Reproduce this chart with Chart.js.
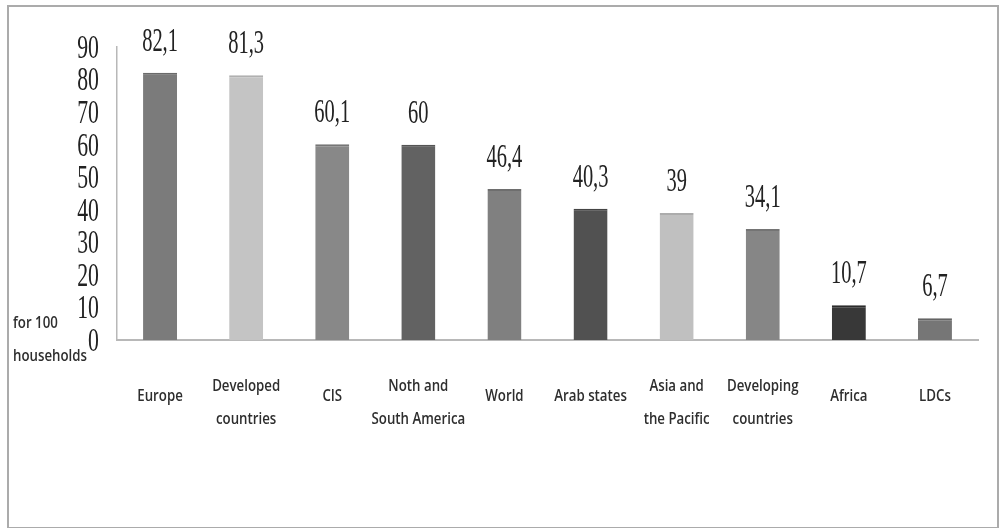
<!DOCTYPE html>
<html>
<head>
<meta charset="utf-8">
<script src="https://cdn.jsdelivr.net/npm/chart.js@4/dist/chart.umd.min.js"></script>
<style>
  html, body { margin: 0; padding: 0; background: #fff; }
  .frame {
    position: absolute; left: 7px; top: 5px; width: 988px; height: 520px;
    border: 2px solid #ababab; box-sizing: content-box;
  }
  .wrap { position: absolute; left: 0; top: 0; width: 999px; height: 528px; }
</style>
</head>
<body>
<div class="frame"></div>
<div class="wrap"><canvas id="chart-households"></canvas></div>
<script>
// households per 100, by region
const categories = [
  ["Europe"],
  ["Developed", "countries"],
  ["CIS"],
  ["Noth and", "South America"],
  ["World"],
  ["Arab states"],
  ["Asia and", "the Pacific"],
  ["Developing", "countries"],
  ["Africa"],
  ["LDCs"],
];
const values = [82.1, 81.3, 60.1, 60, 46.4, 40.3, 39, 34.1, 10.7, 6.7];
const yTickValues = [0, 10, 20, 30, 40, 50, 60, 70, 80, 90];
const unitLabel = ["for 100", "households"];

const barColors = [
  "#7b7b7b", "#c4c4c4", "#888888", "#626262", "#808080",
  "#515151", "#c0c0c0", "#868686", "#383838", "#767676",
];
const barTops = [
  "#6a6a6a", "#b0b0b0", "#767676", "#545454", "#6e6e6e",
  "#444444", "#acacac", "#747474", "#2c2c2c", "#646464",
];

// decimal comma, like the source table
function fmt(v) {
  return String(v).replace(".", ",");
}

// text squeezed horizontally
function drawSquashed(ctx, text, px, py, font, sx, align, baseline) {
  ctx.save();
  ctx.translate(px, py);
  ctx.scale(sx, 1);
  ctx.font = font;
  ctx.textAlign = align;
  ctx.textBaseline = baseline;
  ctx.fillText(text, 0, 0);
  ctx.restore();
}

const textPlugin = {
  id: "squashedText",
  afterDatasetsDraw(chart) {
    const { ctx, scales } = chart;
    const x = scales.x;
    const y = scales.y;
    const meta = chart.getDatasetMeta(0);

    // y axis numbers
    ctx.fillStyle = "#222";
    yTickValues.forEach((v) => {
      drawSquashed(ctx, String(v), x.left - 18, y.getPixelForValue(v) + 2,
        '34px "Liberation Serif"', 0.64, "right", "middle");
    });

    // value above each bar
    meta.data.forEach((bar, i) => {
      drawSquashed(ctx, fmt(values[i]), bar.x, bar.y - 22,
        '33px "Liberation Serif"', 0.62, "center", "alphabetic");
    });

    // region names under the axis
    ctx.fillStyle = "#2e2e2e";
    categories.forEach((lines, i) => {
      const cx = x.getPixelForValue(i);
      const first = lines.length > 1 ? y.bottom + 46 : y.bottom + 56;
      lines.forEach((line, j) => {
        drawSquashed(ctx, line, cx, first + j * 33,
          '600 17px "Open Sans"', 0.78, "center", "middle");
      });
    });

    // unit note at the left
    unitLabel.forEach((line, j) => {
      drawSquashed(ctx, line, 13, y.bottom - 17 + j * 33,
        '600 17px "Open Sans"', 0.78, "left", "middle");
    });
  },
};

new Chart(document.getElementById("chart-households"), {
  type: "bar",
  data: {
    labels: categories,
    datasets: [
      {
        data: values,
        backgroundColor: barColors,
        borderColor: barTops,
        borderWidth: { top: 2, left: 0, right: 0, bottom: 0 },
        barPercentage: 0.395,
        categoryPercentage: 1,
      },
    ],
  },
  options: {
    responsive: true,
    maintainAspectRatio: false,
    animation: false,
    layout: {
      padding: { left: 117, right: 21, top: 47, bottom: 188 },
    },
    plugins: {
      legend: { display: false },
      tooltip: { enabled: false },
    },
    scales: {
      x: {
        grid: { display: false, drawTicks: false },
        ticks: { display: false },
        border: { display: true, color: "#b8b8b8", width: 2 },
      },
      y: {
        min: 0,
        max: 90,
        grid: { display: false, drawTicks: false },
        ticks: { display: false, stepSize: 10 },
        border: { display: true, color: "#b8b8b8", width: 1.5 },
      },
    },
  },
  plugins: [textPlugin],
});
</script>
</body>
</html>
